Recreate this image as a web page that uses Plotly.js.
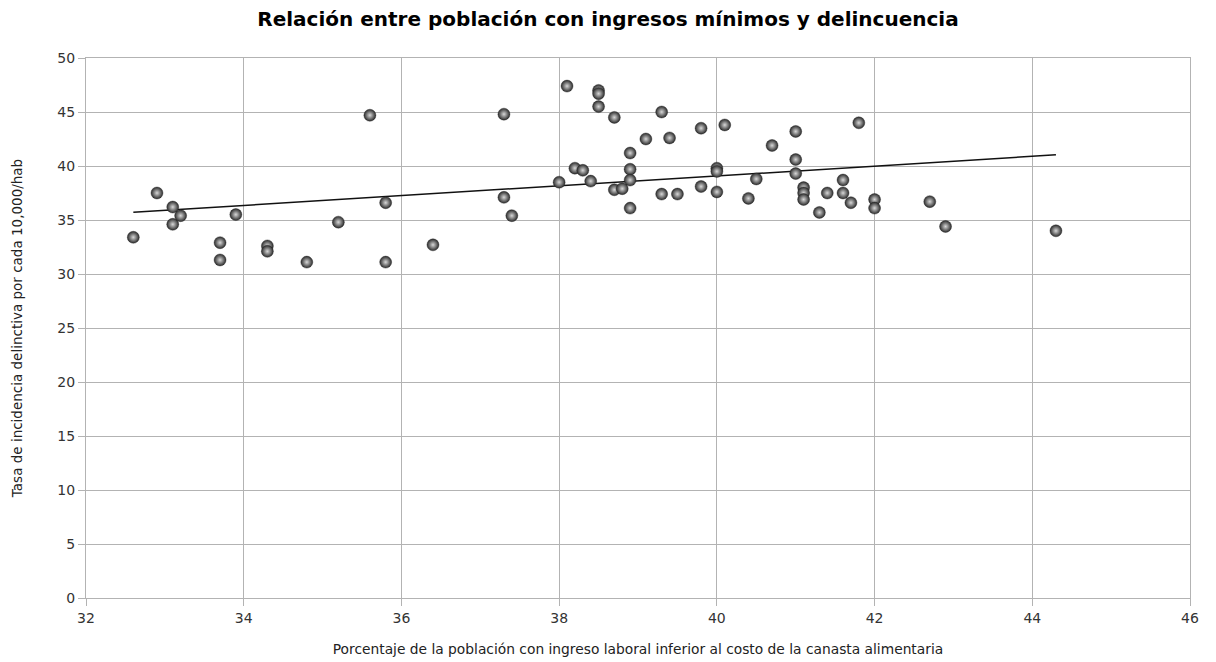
<!DOCTYPE html>
<html>
<head>
<meta charset="utf-8">
<script src="https://cdn.plot.ly/plotly-3.0.1.min.js"></script>
<style>html,body{margin:0;padding:0;background:#fff;}#chart{width:1216px;height:662px;}</style>
</head>
<body>
<div id="chart"></div>
<script>
// Porcentaje de la población con ingreso laboral inferior al costo de la canasta alimentaria
const pobreza = [
  32.6, 32.9, 33.1, 33.1, 33.2, 33.7, 33.7, 33.9, 34.3, 34.3,
  34.8, 35.2, 35.6, 35.8, 35.8, 36.4, 37.3, 37.3, 37.4, 38.1,
  38.0, 38.2, 38.3, 38.4, 38.5, 38.5, 38.5, 38.7, 38.7, 38.8,
  38.9, 38.9, 38.9, 38.9, 39.1, 39.3, 39.3, 39.4, 39.5, 39.8,
  39.8, 40.0, 40.0, 40.0, 40.1, 40.4, 40.5, 40.7, 41.0, 41.0,
  41.0, 41.1, 41.1, 41.1, 41.3, 41.4, 41.6, 41.6, 41.7, 41.8,
  42.0, 42.0, 42.7, 42.9, 44.3
];
// Tasa de incidencia delictiva por cada 10,000/hab
const delincuencia = [
  33.4, 37.5, 36.2, 34.6, 35.4, 32.9, 31.3, 35.5, 32.6, 32.1,
  31.1, 34.8, 44.7, 36.6, 31.1, 32.7, 44.8, 37.1, 35.4, 47.4,
  38.5, 39.8, 39.6, 38.6, 47.0, 46.7, 45.5, 44.5, 37.8, 37.9,
  41.2, 39.7, 38.7, 36.1, 42.5, 45.0, 37.4, 42.6, 37.4, 43.5,
  38.1, 39.8, 39.5, 37.6, 43.8, 37.0, 38.8, 41.9, 43.2, 40.6,
  39.3, 38.0, 37.5, 36.9, 35.7, 37.5, 38.7, 37.5, 36.6, 44.0,
  36.9, 36.1, 36.7, 34.4, 34.0
];
const xTicks = [32, 34, 36, 38, 40, 42, 44, 46];
const yTicks = [0, 5, 10, 15, 20, 25, 30, 35, 40, 45, 50];

// Linear regression (trend line) computed from the data
const n = pobreza.length;
const mx = pobreza.reduce((a, b) => a + b, 0) / n;
const my = delincuencia.reduce((a, b) => a + b, 0) / n;
let sxy = 0, sxx = 0;
for (let i = 0; i < n; i++) { sxy += (pobreza[i] - mx) * (delincuencia[i] - my); sxx += (pobreza[i] - mx) ** 2; }
const slope = sxy / sxx, intercept = my - slope * mx;
const xMin = Math.min(...pobreza), xMax = Math.max(...pobreza);
const trendX = [xMin, xMax];
const trendY = trendX.map(v => intercept + slope * v);

const font = 'DejaVu Sans, sans-serif';
const data = [
  {
    type: 'scatter', mode: 'lines', x: trendX, y: trendY,
    line: {color: '#111111', width: 1.5}, hoverinfo: 'skip', showlegend: false
  },
  {
    type: 'scatter', mode: 'markers', x: pobreza, y: delincuencia,
    marker: {
      size: 12, color: '#2a2a2a',
      gradient: {type: 'radial', color: '#d8d8d8'},
      line: {width: 0.4, color: '#222222'}
    },
    showlegend: false
  }
];
const axisCommon = {
  showgrid: true, gridcolor: '#b3b3b3', gridwidth: 1,
  showline: true, linecolor: '#b3b3b3', linewidth: 1, mirror: true,
  ticks: 'outside', ticklen: 7, tickcolor: '#b3b3b3',
  zeroline: false,
  tickfont: {family: font, size: 14, color: '#333333'}
};
const layout = {
  width: 1216, height: 662,
  margin: {l: 86, r: 26, t: 58, b: 64},
  paper_bgcolor: '#ffffff', plot_bgcolor: '#ffffff',
  title: {
    text: '<b>Relación entre población con ingresos mínimos y delincuencia</b>',
    font: {family: font, size: 20, color: '#000000'},
    x: 0.5, xref: 'container', xanchor: 'center', y: 0.972, yref: 'container', yanchor: 'middle'
  },
  xaxis: Object.assign({}, axisCommon, {
    range: [32, 46], tickvals: xTicks, ticktext: xTicks.map(String),
    title: {text: 'Porcentaje de la población con ingreso laboral inferior al costo de la canasta alimentaria',
            font: {family: font, size: 13.8, color: '#222222'}, standoff: 19}
  }),
  yaxis: Object.assign({}, axisCommon, {
    range: [0, 50], tickvals: yTicks, ticktext: yTicks.map(String),
    title: {text: 'Tasa de incidencia delinctiva por cada 10,000/hab',
            font: {family: font, size: 13.5, color: '#222222'}, standoff: 31}
  })
};
Plotly.newPlot('chart', data, layout, {displayModeBar: false, staticPlot: true});
</script>
</body>
</html>
